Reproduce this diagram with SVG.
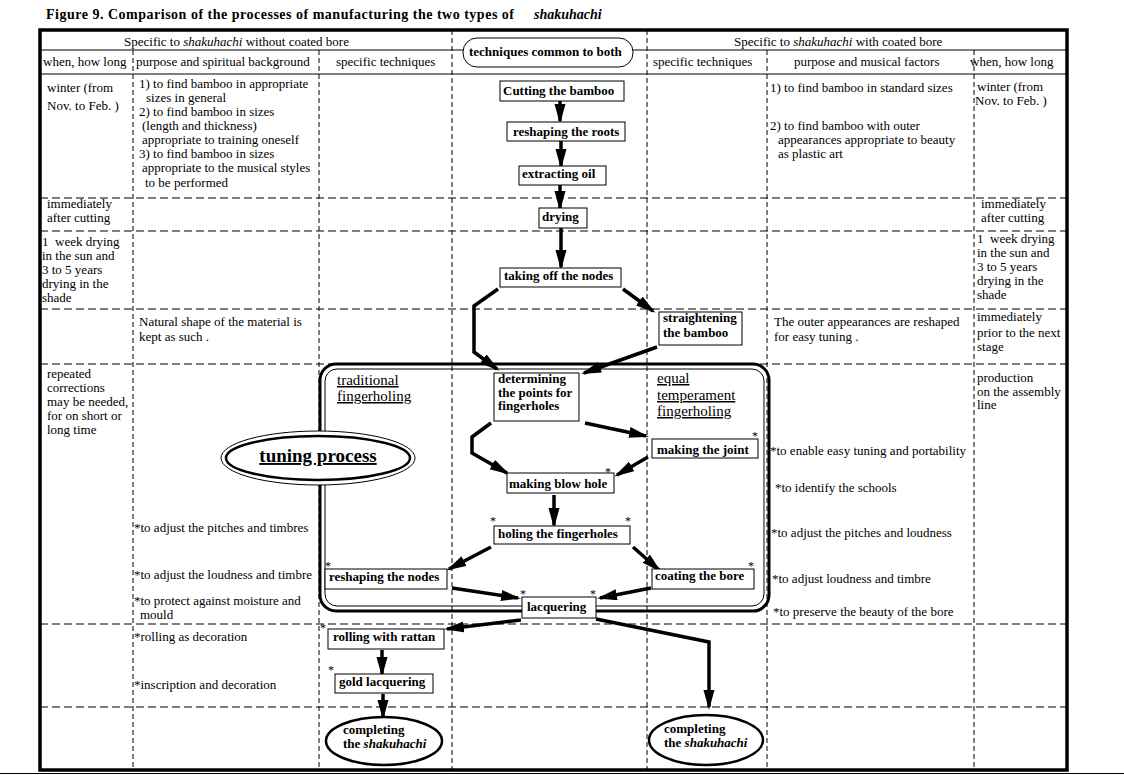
<svg xmlns="http://www.w3.org/2000/svg" width="1124" height="775" viewBox="0 0 1124 775">
<defs>
<style>
text { font-family: "Liberation Serif", "Times New Roman", serif; font-size: 13px; fill: #000; }
.b { font-weight: bold; }
.i { font-style: italic; }
.u { text-decoration: underline; font-size: 15px; }
.node rect { fill: #fff; stroke: #000; stroke-width: 1; }
.dh { stroke: #000; stroke-width: 1; stroke-dasharray: 8 4; fill: none; }
.dv { stroke: #000; stroke-width: 1; stroke-dasharray: 5 3; fill: none; }
.solid { stroke: #000; stroke-width: 1; fill: none; }
.conn { stroke: #000; stroke-width: 3.5; fill: none; stroke-linejoin: miter; marker-end: url(#ah); }
.ast { font-size: 12px; text-anchor: middle; }
</style>
<marker id="ah" markerUnits="userSpaceOnUse" markerWidth="22" markerHeight="12" refX="17" refY="5.5" orient="auto">
<path d="M0,0 L20,5.5 L0,11 z" fill="#000"/>
</marker>
</defs>
<rect x="0" y="0" width="1124" height="775" fill="#fff"/>

<!-- title -->
<text x="46" y="19" class="b" font-size="14" style="font-size:14px" textLength="468" lengthAdjust="spacing">Figure 9. Comparison of the processes of manufacturing  the two types of</text>
<text x="534" y="19" class="b i" style="font-size:14px">shakuhachi</text>

<!-- table grid -->
<g id="grid">
<line class="dv" x1="133" y1="50" x2="133" y2="770"/>
<line class="dv" x1="319" y1="50" x2="319" y2="770"/>
<line class="dv" x1="452" y1="30" x2="452" y2="770"/>
<line class="dv" x1="647" y1="30" x2="647" y2="770"/>
<line class="dv" x1="767" y1="50" x2="767" y2="770"/>
<line class="dv" x1="974" y1="50" x2="974" y2="770"/>
<line class="dh" x1="40" y1="198" x2="1067" y2="198"/>
<line class="dh" x1="40" y1="231" x2="1067" y2="231"/>
<line class="dh" x1="40" y1="309" x2="1067" y2="309"/>
<line class="dh" x1="40" y1="364" x2="1067" y2="364"/>
<line class="dh" x1="40" y1="624" x2="1067" y2="624"/>
<line class="dh" x1="40" y1="707" x2="1067" y2="707"/>
<line class="solid" x1="40" y1="50" x2="1067" y2="50"/>
<line class="solid" x1="40" y1="74" x2="1067" y2="74"/>
<rect x="40" y="30" width="1027" height="740" fill="none" stroke="#000" stroke-width="3.5"/>
<line x1="0" y1="773.5" x2="1124" y2="773.5" stroke="#000" stroke-width="1"/>
</g>

<!-- headers -->
<g id="headers">
<text x="124" y="46">Specific to <tspan class="i">shakuhachi</tspan> without coated bore</text>
<text x="734" y="46">Specific to <tspan class="i">shakuhachi</tspan> with coated bore</text>
<text x="43" y="66">when, how long</text>
<text x="136" y="66">purpose and spiritual background</text>
<text x="336" y="66">specific techniques</text>
<text x="653" y="66">specific techniques</text>
<text x="794" y="66">purpose and musical factors</text>
<text x="970" y="66">when, how long</text>
</g>
<g id="common-header">
<rect x="463" y="38" width="170" height="29" rx="14" ry="14" fill="#fff" stroke="#000" stroke-width="1"/>
<text x="469" y="56" class="b">techniques common to both</text>
</g>

<!-- left column notes -->
<g id="left-when">
<text x="47" y="92">winter (from</text>
<text x="47" y="110">Nov. to Feb. )</text>
<text x="47" y="208">immediately</text>
<text x="47" y="222">after cutting</text>
<text x="42" y="246" xml:space="preserve">1  week drying</text>
<text x="42" y="260">in the sun and</text>
<text x="42" y="274">3 to 5 years</text>
<text x="42" y="288">drying in the</text>
<text x="42" y="302">shade</text>
<text x="47" y="378">repeated</text>
<text x="47" y="392">corrections</text>
<text x="47" y="406">may be needed,</text>
<text x="47" y="420">for on short or</text>
<text x="47" y="434">long time</text>
</g>
<g id="left-purpose">
<text x="139" y="88">1) to find bamboo in appropriate</text>
<text x="146" y="102">sizes in general</text>
<text x="139" y="116">2) to find bamboo in sizes</text>
<text x="142" y="130">(length and thickness)</text>
<text x="142" y="144">appropriate to training oneself</text>
<text x="139" y="158">3) to find bamboo in sizes</text>
<text x="142" y="172">appropriate to the musical styles</text>
<text x="145" y="187">to be performed</text>
<text x="139" y="326">Natural shape of the material is</text>
<text x="139" y="341">kept as such .</text>
<text x="134" y="532">*to adjust the pitches and timbres</text>
<text x="134" y="579">*to adjust the loudness and timbre</text>
<text x="134" y="605">*to protect against moisture and</text>
<text x="140" y="619">mould</text>
<text x="134" y="641">*rolling as decoration</text>
<text x="134" y="689">*inscription and decoration</text>
</g>

<!-- right column notes -->
<g id="right-purpose">
<text x="770" y="92">1) to find bamboo in standard sizes</text>
<text x="770" y="130">2) to find bamboo with outer</text>
<text x="778" y="144">appearances appropriate to beauty</text>
<text x="778" y="158">as plastic art</text>
<text x="774" y="326">The outer appearances are reshaped</text>
<text x="774" y="341">for easy tuning .</text>
<text x="770" y="455">*to enable easy tuning and portability</text>
<text x="775" y="492">*to identify the schools</text>
<text x="771" y="537">*to adjust the pitches and loudness</text>
<text x="772" y="583">*to adjust loudness and timbre</text>
<text x="773" y="616">*to preserve the beauty of the bore</text>
</g>
<g id="right-when">
<text x="977" y="91">winter (from</text>
<text x="975" y="105">Nov. to Feb. )</text>
<text x="981" y="208">immediately</text>
<text x="981" y="222">after cutting</text>
<text x="977" y="243" xml:space="preserve">1  week drying</text>
<text x="977" y="257">in the sun and</text>
<text x="977" y="271">3 to 5 years</text>
<text x="977" y="285">drying in the</text>
<text x="977" y="299">shade</text>
<text x="977" y="321">immediately</text>
<text x="977" y="337">prior to the next</text>
<text x="977" y="351">stage</text>
<text x="977" y="382">production</text>
<text x="977" y="396">on the assembly</text>
<text x="977" y="409">line</text>
</g>

<!-- tuning frame -->
<g id="tuning-frame">
<rect x="320" y="364" width="449" height="247" rx="16" ry="16" fill="none" stroke="#000" stroke-width="3"/>
<rect x="325" y="369" width="439" height="237" rx="12" ry="12" fill="none" stroke="#000" stroke-width="1"/>
<text x="337" y="385" class="u">traditional</text>
<text x="337" y="401" class="u">fingerholing</text>
<text x="657" y="383" class="u">equal</text>
<text x="657" y="400" class="u">temperament</text>
<text x="657" y="416" class="u">fingerholing</text>
</g>
<g id="tuning-process">
<ellipse cx="318" cy="458" rx="97" ry="27" fill="#fff" stroke="#000" stroke-width="1"/>
<ellipse cx="318" cy="458" rx="92" ry="22" fill="#fff" stroke="#000" stroke-width="2.5"/>
<text x="318" y="462" class="b" text-anchor="middle" style="font-size:19px;text-decoration:underline">tuning process</text>
</g>

<!-- connectors -->
<g id="connectors">
<line class="conn" x1="560" y1="101" x2="560" y2="121"/>
<line class="conn" x1="561" y1="141" x2="561" y2="166"/>
<line class="conn" x1="560" y1="185" x2="560" y2="208"/>
<line class="conn" x1="561" y1="228" x2="561" y2="267"/>
<polyline class="conn" points="498,289 474,306 474,352 497,369"/>
<line class="conn" x1="623" y1="289" x2="653" y2="311"/>
<line class="conn" x1="657" y1="347" x2="584" y2="373"/>
<polyline class="conn" points="491,423 472,437 472,453 507,473"/>
<line class="conn" x1="585" y1="423" x2="646" y2="436"/>
<line class="conn" x1="648" y1="457" x2="617" y2="475"/>
<line class="conn" x1="554" y1="495" x2="554" y2="525"/>
<line class="conn" x1="491" y1="547" x2="449" y2="569"/>
<line class="conn" x1="633" y1="547" x2="659" y2="570"/>
<line class="conn" x1="452" y1="588" x2="518" y2="598"/>
<line class="conn" x1="651" y1="588" x2="600" y2="598"/>
<line class="conn" x1="521" y1="620" x2="447" y2="629"/>
<line class="conn" x1="382" y1="650" x2="382" y2="674"/>
<line class="conn" x1="383" y1="694" x2="383" y2="717"/>
<polyline class="conn" points="596,619 709,642 709,707"/>
</g>

<!-- nodes -->
<g id="n-cutting" class="node"><rect x="500" y="81" width="124" height="20"/><text x="503" y="95" class="b">Cutting the bamboo</text></g>
<g id="n-roots" class="node"><rect x="507" y="122" width="118" height="19"/><text x="513" y="136" class="b">reshaping the roots</text></g>
<g id="n-oil" class="node"><rect x="519" y="166" width="87" height="19"/><text x="522" y="178" class="b">extracting oil</text></g>
<g id="n-drying" class="node"><rect x="539" y="208" width="48" height="20"/><text x="542" y="221" class="b">drying</text></g>
<g id="n-nodes" class="node"><rect x="500" y="268" width="121" height="19"/><text x="504" y="280" class="b">taking off the nodes</text></g>
<g id="n-straighten" class="node"><rect x="659" y="312" width="83" height="33"/><text x="663" y="322" class="b">straightening</text><text x="663" y="337" class="b">the bamboo</text></g>
<g id="n-determine" class="node"><rect x="494" y="373" width="85" height="48"/><text x="498" y="383" class="b">determining</text><text x="498" y="397" class="b">the points for</text><text x="498" y="410" class="b">fingerholes</text></g>
<g id="n-joint" class="node"><rect x="652" y="439" width="106" height="19"/><text x="657" y="454" class="b">making the joint</text><text x="755" y="440" class="ast">*</text></g>
<g id="n-blow" class="node"><rect x="507" y="473" width="107" height="20"/><text x="509" y="488" class="b">making blow hole</text><text x="608" y="476" class="ast">*</text></g>
<g id="n-holing" class="node"><rect x="494" y="526" width="136" height="18"/><text x="498" y="538" class="b">holing the fingerholes</text><text x="493" y="525" class="ast">*</text><text x="628" y="525" class="ast">*</text></g>
<g id="n-reshape-nodes" class="node"><rect x="325" y="569" width="122" height="20"/><text x="329" y="581" class="b">reshaping the nodes</text><text x="328" y="570" class="ast">*</text></g>
<g id="n-coating" class="node"><rect x="652" y="569" width="102" height="20"/><text x="655" y="580" class="b">coating the bore</text><text x="751" y="570" class="ast">*</text></g>
<g id="n-lacquering" class="node"><rect x="522" y="597" width="74" height="21"/><text x="527" y="611" class="b">lacquering</text><text x="523" y="598" class="ast">*</text><text x="593" y="598" class="ast">*</text></g>
<g id="n-rattan" class="node"><rect x="328" y="629" width="116" height="20"/><text x="333" y="641" class="b">rolling with rattan</text><text x="323" y="632" class="ast">*</text></g>
<g id="n-gold" class="node"><rect x="335" y="674" width="98" height="19"/><text x="339" y="686" class="b">gold lacquering</text><text x="331" y="674" class="ast">*</text></g>
<g id="n-complete-left"><ellipse cx="384" cy="741" rx="58" ry="24" fill="#fff" stroke="#000" stroke-width="2.5"/><text x="343" y="734" class="b">completing</text><text x="343" y="748" class="b">the <tspan class="i">shakuhachi</tspan></text></g>
<g id="n-complete-right"><ellipse cx="706" cy="740" rx="57" ry="25" fill="#fff" stroke="#000" stroke-width="2.5"/><text x="664" y="733" class="b">completing</text><text x="664" y="747" class="b">the <tspan class="i">shakuhachi</tspan></text></g>
</svg>
